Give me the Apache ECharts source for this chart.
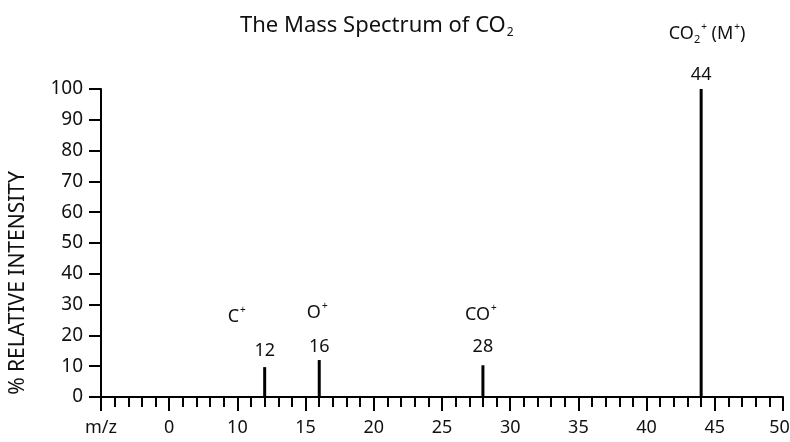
<!DOCTYPE html>
<html>
<head>
<meta charset="utf-8">
<title>The Mass Spectrum of CO2</title>
<script src="https://cdn.jsdelivr.net/npm/echarts@6/dist/echarts.min.js"></script>
<style>
    html, body { margin: 0; padding: 0; background: #fff; }
    #main { width: 790px; height: 442px; }
</style>
</head>
<body>
<div id="main"></div>
<script>
// peaks of the spectrum
var mzValues = [12, 16, 28, 44];
var intensities = [9.7, 12, 10.3, 100];
// ion names, rich text: sub = subscript, sup = superscript
var ionNames = [
    '{t|C}{sup|+}',
    '{t|O}{sup|+}',
    '{t|CO}{sup|+}',
    '{t|CO}{sub|2}{sup|+}{t| (M}{sup|+}{t|)}'
];
// x tick labels, one every 5 units from 0 to 50
var xTickLabels = ['m/z', '0', '10', '15', '20', '25', '30', '35', '40', '45', '50'];

// label placement tweaks per peak
var labelLift = [6, 3, 8, 4];
var ionShiftLeft = [0, 0, 0, 12];
var ionShiftRight = [56, 4, 4, 0];
var ionLineHeight = [48, 48, 44, 62];

var font = 'Noto Sans';
var ink = '#111';

function richFor(i) {
    var lh = ionLineHeight[i];
    return {
        t: {fontSize: 18, fontFamily: font, color: ink, lineHeight: lh},
        sup: {fontSize: 10, fontFamily: font, color: ink, padding: [0, 0, 14, 1]},
        sub: {fontSize: 11, fontFamily: font, color: ink, padding: [12, 0, 0, 0]},
        pre: {padding: [0, 0, 0, ionShiftLeft[i]], lineHeight: lh},
        post: {padding: [0, ionShiftRight[i], 0, 0], lineHeight: lh},
        num: {fontSize: 18, fontFamily: font, color: ink, lineHeight: 20}
    };
}

var peakData = mzValues.map(function (mz, i) {
    return {
        value: [mz, intensities[i]],
        label: {
            distance: labelLift[i],
            formatter: function () {
                return '{pre| }' + ionNames[i] + '{post| }\n{num|' + mz + '}';
            },
            rich: richFor(i)
        }
    };
});

var myChart = echarts.init(document.getElementById('main'));
var option = {
    animation: false,
    title: {
        text: '{t|The Mass Spectrum of CO}{sub|2}',
        left: 235,
        top: 6,
        textStyle: {
            fontWeight: 'normal',
            rich: {
                t: {fontSize: 22, fontWeight: 'normal', fontFamily: font, color: ink, lineHeight: 30},
                sub: {fontSize: 12, fontWeight: 'normal', fontFamily: font, color: ink, padding: [14, 0, 0, 1]}
            }
        }
    },
    grid: {
        left: 101,
        right: 7,
        top: 89,
        bottom: 45,
        outerBoundsMode: 'none'
    },
    xAxis: {
        type: 'value',
        min: 0,
        max: 50,
        interval: 5,
        axisLine: {lineStyle: {color: '#000', width: 2}},
        axisTick: {show: true, length: 14, lineStyle: {color: '#000', width: 2}},
        minorTick: {show: true, splitNumber: 5, length: 10, lineStyle: {color: '#000', width: 2}},
        splitLine: {show: false},
        axisLabel: {
            margin: 22,
            fontSize: 18,
            fontFamily: font,
            color: ink,
            showMinLabel: true,
            showMaxLabel: true,
            formatter: function (v) {
                var idx = Math.round(v / 5);
                if (idx === xTickLabels.length - 1) {
                    return '{last|' + xTickLabels[idx] + '}';
                }
                return xTickLabels[idx];
            },
            rich: {
                last: {fontSize: 18, fontFamily: font, color: ink, padding: [0, 7, 0, 0]}
            }
        }
    },
    yAxis: {
        type: 'value',
        min: 0,
        max: 100,
        interval: 10,
        name: '% RELATIVE INTENSITY',
        nameLocation: 'middle',
        nameGap: 72,
        nameMoveOverlap: false,
        nameTextStyle: {
            fontSize: 21,
            fontFamily: font,
            color: ink,
            padding: [0, 80, 0, 0]
        },
        axisLine: {show: true, lineStyle: {color: '#000', width: 2}},
        axisTick: {show: true, length: 12, lineStyle: {color: '#000', width: 2}},
        splitLine: {show: false},
        axisLabel: {
            margin: 18,
            fontSize: 19,
            fontFamily: font,
            color: ink
        }
    },
    series: [
        {
            name: 'peaks',
            type: 'bar',
            barWidth: 3,
            itemStyle: {color: '#000'},
            label: {
                show: true,
                position: 'top',
                align: 'center'
            },
            data: peakData
        }
    ]
};
myChart.setOption(option);
</script>
</body>
</html>
